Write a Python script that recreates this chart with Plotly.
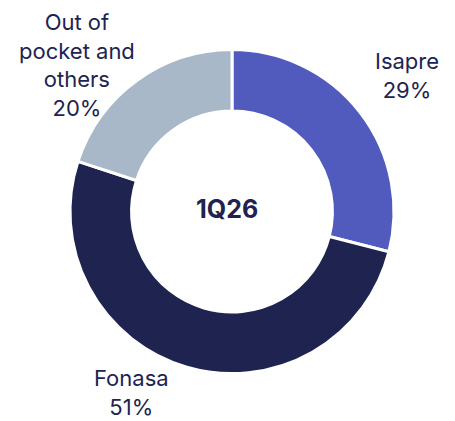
import plotly.graph_objects as go

labels = ["Isapre", "Fonasa", "Out of pocket and others"]
label_text = ["Isapre", "Fonasa", "Out of<br>pocket and<br>others"]
values = [29, 51, 20]
colors = ["#515BBE", "#1E2350", "#A9B8C8"]
center_label = "1Q26"

text_color = "#1E2350"
W, H = 455, 421
# label block centres in pixel coordinates (layout only)
label_pos = [(399, 68), (124, 384), (69, 57)]

fig = go.Figure(
    go.Pie(
        labels=labels,
        values=values,
        textposition="none",
        hole=0.62,
        sort=False,
        direction="clockwise",
        rotation=0,
        marker=dict(colors=colors, line=dict(color="white", width=3)),
        showlegend=False,
        hoverinfo="label+value",
        domain=dict(x=[62 / W, 386 / W], y=[55.5 / H, 379.5 / H]),
    )
)

for txt, val, (px, py) in zip(label_text, values, label_pos):
    fig.add_annotation(
        text=f"{txt}<br>{val}%",
        x=px / W,
        y=1 - py / H,
        xref="paper",
        yref="paper",
        xanchor="center",
        yanchor="middle",
        showarrow=False,
        align="center",
        borderpad=0,
        font=dict(family="Inter", size=22, color=text_color),
    )

fig.add_annotation(
    text="<b>" + center_label + "</b>",
    x=219 / W,
    y=1 - 201 / H,
    xref="paper",
    yref="paper",
    showarrow=False,
    font=dict(family="Inter", size=25, color=text_color),
)

fig.update_layout(
    width=W,
    height=H,
    margin=dict(l=0, r=0, t=0, b=0),
    paper_bgcolor="white",
    plot_bgcolor="white",
)

fig.write_html("out.html")
